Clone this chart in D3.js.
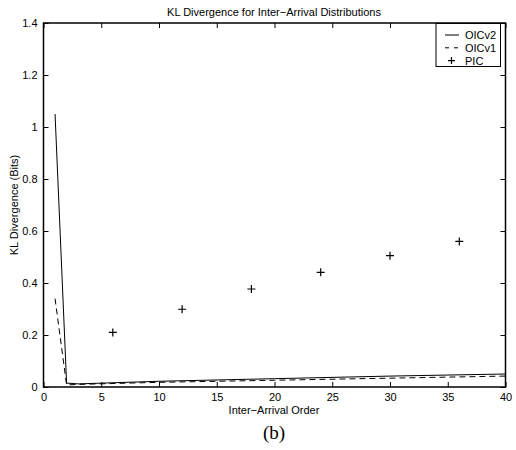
<!doctype html>
<html>
  <head>
    <script src="https://cdnjs.cloudflare.com/ajax/libs/d3/7.8.5/d3.min.js"></script>
    <style>
      body { margin: 0; background: #fff; }
      text { font-family: "Liberation Sans", Arial, sans-serif; }
    </style>
  </head>
  <body>
    <svg id="chart" width="516" height="450"></svg>
    <script>
      // values
      var oicv2X = [1, 2, 3, 10, 20, 30, 40];
      var oicv2Y = [1.05, 0.015, 0.012, 0.022, 0.032, 0.042, 0.05];
      var oicv1X = [1, 2, 3, 10, 20, 30, 40];
      var oicv1Y = [0.34, 0.008, 0.01, 0.018, 0.026, 0.034, 0.042];
      var picX = [6, 12, 18, 24, 30, 36];
      var picY = [0.21, 0.299, 0.377, 0.441, 0.505, 0.56];
      var xTicks = [0, 5, 10, 15, 20, 25, 30, 35, 40];
      var yTicks = [0, 0.2, 0.4, 0.6, 0.8, 1, 1.2, 1.4];
      var legendNames = ["OICv2", "OICv1", "PIC"];

      var pLeft = 43.5, pRight = 505.5, pTop = 23, pBottom = 387;
      var svg = d3.select("#chart");

      var x = d3.scaleLinear().domain([0, 40]).range([pLeft, pRight]);
      var y = d3.scaleLinear().domain([0, 1.4]).range([pBottom, pTop]);

      // mirrored ticks, all pointing inward
      var tickLen = 5;
      svg.append("g")
          .attr("transform", "translate(0," + pBottom + ")")
          .call(d3.axisBottom(x).tickValues(xTicks).tickSizeInner(-tickLen).tickSizeOuter(0).tickPadding(6))
          .call(g => g.select(".domain").remove())
          .call(g => g.selectAll("text").attr("font-size", 11).attr("fill", "#000").attr("font-family", null));
      svg.append("g")
          .attr("transform", "translate(0," + pTop + ")")
          .call(d3.axisTop(x).tickValues(xTicks).tickSizeInner(-tickLen).tickSizeOuter(0).tickFormat(""))
          .call(g => g.select(".domain").remove());
      svg.append("g")
          .attr("transform", "translate(" + pLeft + ",0)")
          .call(d3.axisLeft(y).tickValues(yTicks).tickSizeInner(-tickLen).tickSizeOuter(0).tickPadding(6)
            .tickFormat(d => String(+d.toFixed(1))))
          .call(g => g.select(".domain").remove())
          .call(g => g.selectAll("text").attr("font-size", 11).attr("fill", "#000"));
      svg.append("g")
          .attr("transform", "translate(" + pRight + ",0)")
          .call(d3.axisRight(y).tickValues(yTicks).tickSizeInner(-tickLen).tickSizeOuter(0).tickFormat(""))
          .call(g => g.select(".domain").remove());
      svg.selectAll(".tick line").attr("stroke", "#000");
      svg.selectAll("g").attr("font-family", null);

      svg.append("rect")
          .attr("x", pLeft).attr("y", pTop)
          .attr("width", pRight - pLeft).attr("height", pBottom - pTop)
          .attr("fill", "none").attr("stroke", "#000").attr("stroke-width", 1.5);

      var line = d3.line().x(d => x(d[0])).y(d => y(d[1]));

      svg.append("path")
          .datum(d3.zip(oicv2X, oicv2Y))
          .attr("d", line)
          .attr("fill", "none").attr("stroke", "#000").attr("stroke-width", 1);
      svg.append("path")
          .datum(d3.zip(oicv1X, oicv1Y))
          .attr("d", line)
          .attr("fill", "none").attr("stroke", "#000").attr("stroke-width", 1)
          .attr("stroke-dasharray", "6,4");

      svg.selectAll(".pic").data(d3.zip(picX, picY))
        .enter()
        .append("path")
          .attr("class", "pic")
          .attr("d", d => "M" + (x(d[0]) - 4) + "," + y(d[1]) + "h8M" + x(d[0]) + "," + (y(d[1]) - 4) + "v8")
          .attr("stroke", "#000").attr("stroke-width", 1.2).attr("fill", "none");

      // legend
      var lg = svg.append("g");
      lg.append("rect")
          .attr("x", 436).attr("y", 23.5).attr("width", 64.5).attr("height", 43)
          .attr("fill", "#fff").attr("stroke", "#000").attr("stroke-width", 1);
      legendNames.forEach(function(name, i) {
        var ly = 35 + i * 12.8;
        if (i < 2) {
          lg.append("line")
              .attr("x1", 445).attr("x2", 459).attr("y1", ly).attr("y2", ly)
              .attr("stroke", "#000").attr("stroke-width", 1)
              .attr("stroke-dasharray", i === 1 ? "4,5" : null);
        } else {
          lg.append("path")
              .attr("d", "M" + 448 + "," + ly + "h7M" + 451.5 + "," + (ly - 3.5) + "v7")
              .attr("stroke", "#000").attr("stroke-width", 1.2);
        }
        lg.append("text")
            .attr("x", 465).attr("y", ly + 4)
            .attr("font-size", 11)
            .text(name);
      });

      svg.append("text")
          .attr("x", 274).attr("y", 16).attr("text-anchor", "middle")
          .attr("font-size", 11).text("KL Divergence for Inter\u2212Arrival Distributions");
      svg.append("text")
          .attr("x", 274).attr("y", 414).attr("text-anchor", "middle")
          .attr("font-size", 11).text("Inter\u2212Arrival Order");
      svg.append("text")
          .attr("transform", "translate(18," + ((pTop + pBottom) / 2) + ") rotate(-90)")
          .attr("text-anchor", "middle")
          .attr("font-size", 11).text("KL Divergence (Bits)");
      svg.append("text")
          .attr("x", 274).attr("y", 439).attr("text-anchor", "middle")
          .style("font-family", "'Liberation Serif', 'Times New Roman', serif")
          .attr("font-size", 19).text("(b)");
    </script>
  </body>
</html>
